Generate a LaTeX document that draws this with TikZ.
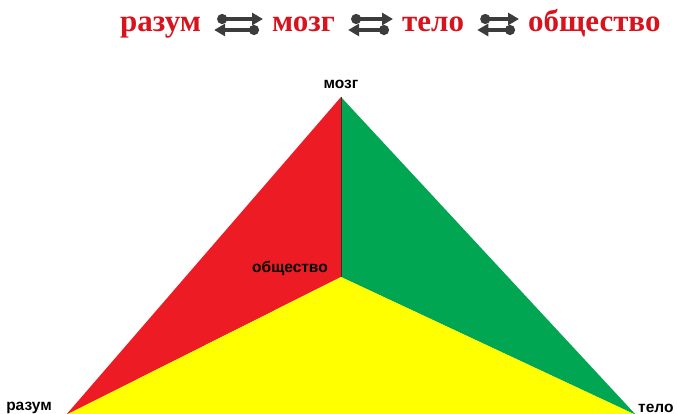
\documentclass[tikz,border=0pt]{standalone}
\usepackage{fontspec}
\setmainfont{Liberation Serif}
\setsansfont{Liberation Sans}
\usepackage{xcolor}
\usetikzlibrary{positioning,arrows.meta}

\definecolor{tred}{RGB}{237,28,36}
\definecolor{tgreen}{RGB}{0,166,81}
\definecolor{tyellow}{RGB}{255,255,0}
\definecolor{wordred}{RGB}{215,20,30}
\definecolor{arrowgray}{RGB}{60,60,60}

\begin{document}
\begin{tikzpicture}[
  x=1pt, y=-1pt,
  word/.style={inner sep=0pt, anchor=base west, text=wordred,
    font=\fontsize{31}{31}\selectfont\bfseries},
  corner/.style={inner sep=0pt, font=\sffamily\bfseries\fontsize{15.5}{15.5}\selectfont},
  swap/.style={line width=3.3pt, draw=arrowgray,
    {Circle[length=10pt]}-{Triangle[length=11pt,width=12pt]}},
]
  \useasboundingbox (0,0) rectangle (677,414);

  % title line
  \node[word] (w1) at (120,32) {разум};
  \node[word] (w2) at (272,32) {мозг};
  \node[word] (w3) at (402,32) {тело};
  \node[word] (w4) at (528,32) {общество};

  \foreach \a/\b in {w1/w2, w2/w3, w3/w4} {
    \draw[swap] ([xshift=16pt,yshift=13pt]\a.base east) -- ([xshift=-9pt,yshift=13pt]\b.base west);
    \draw[swap] ([xshift=-13pt,yshift=2pt]\b.base west) -- ([xshift=13pt,yshift=2pt]\a.base east);
  }

  % pyramid
  \coordinate (top) at (341,97);
  \coordinate (mid) at (341,277);
  \coordinate (left) at (66,415);
  \coordinate (right) at (636,415);

  \fill[tred] (top) -- (mid) -- (left) -- cycle;
  \fill[tgreen] (top) -- (right) -- (mid) -- cycle;
  \fill[tyellow] (left) -- (mid) -- (right) -- cycle;
  \draw[black!80, line width=0.8pt] (top) -- (mid);

  \node[corner] (brain) at (341,84) {мозг};
  \node[corner] (society) at (290,268) {общество};
  \node[corner] (mind) at (29,408) {разум};
  \node[corner, anchor=west] (body) at (638,408) {тело};
\end{tikzpicture}
\end{document}
